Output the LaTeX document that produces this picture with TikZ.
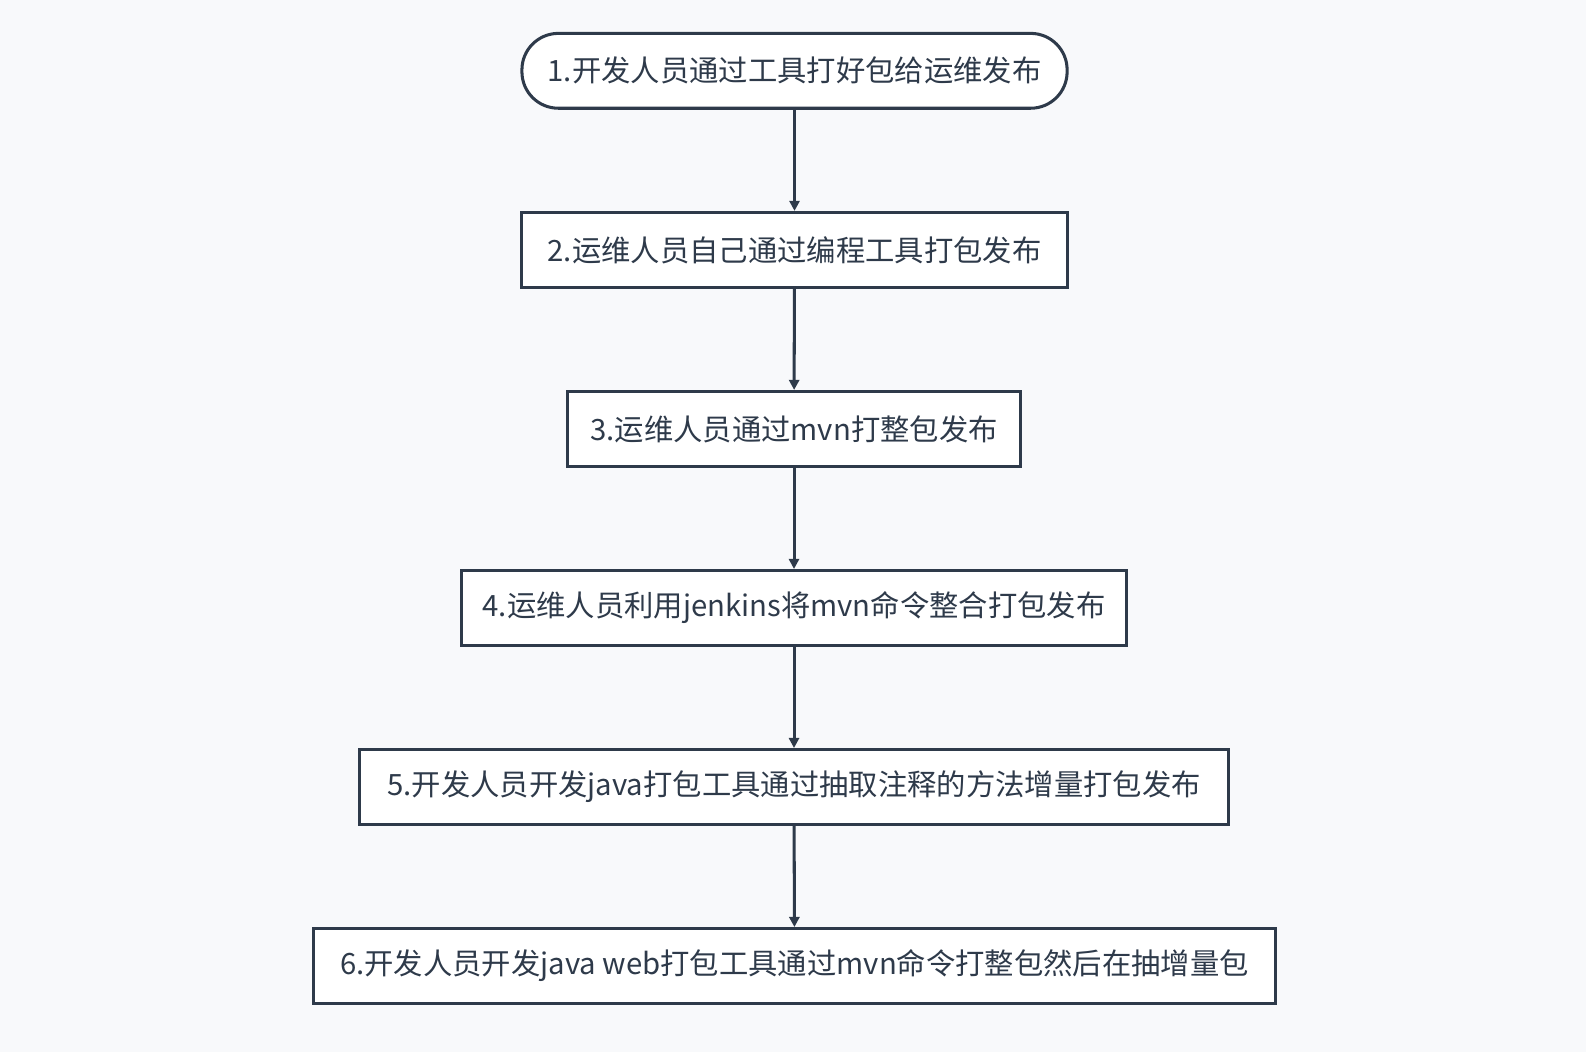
\documentclass[tikz,border=0pt]{standalone}
\usepackage{fontspec}
\setmainfont{Noto Sans CJK SC}
\usetikzlibrary{arrows.meta}
\definecolor{ln}{HTML}{2E3A4A}
\definecolor{bg}{HTML}{F8F9FB}
\begin{document}
\begin{tikzpicture}[x=0.5pt,y=-0.5pt,
  box/.style={draw=ln,line width=1.5pt,fill=white,minimum height=37pt,inner xsep=0pt,text=ln,font=\fontsize{14.5pt}{16pt}\selectfont},
  arr/.style={draw=ln,line width=1.5pt,-{Triangle[length=5pt,width=5pt]}}]
\fill[bg] (0,0) rectangle (1568,1040);
\useasboundingbox (0,0) rectangle (1568,1040);
\node[box,rounded corners=18pt,minimum width=269.5pt] (n1) at (785.5,70) {1.开发人员通过工具打好包给运维发布};
\node[box,minimum width=269.5pt] (n2) at (785.5,247) {2.运维人员自己通过编程工具打包发布};
\node[box,minimum width=224pt] (n3) at (785,424) {3.运维人员通过mvn打整包发布};
\node[box,minimum width=329pt] (n4) at (785,601) {4.运维人员利用jenkins将mvn命令整合打包发布};
\node[box,minimum width=430pt] (n5) at (785,778) {5.开发人员开发java打包工具通过抽取注释的方法增量打包发布};
\node[box,minimum width=475.5pt] (n6) at (785.5,955) {6.开发人员开发java web打包工具通过mvn命令打整包然后在抽增量包};
\draw[arr] (n1) -- (n2);
\draw[arr] (n2) -- (n3);
\draw[arr] (n3) -- (n4);
\draw[arr] (n4) -- (n5);
\draw[arr] (n5) -- (n6);
\end{tikzpicture}
\end{document}
